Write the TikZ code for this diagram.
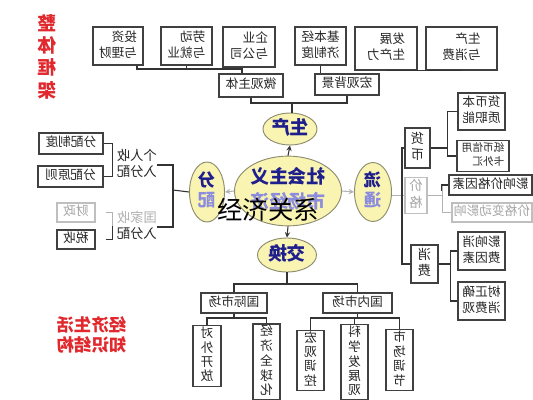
\documentclass[tikz,border=0pt]{standalone}
\usepackage{fontspec}
\setmainfont{Noto Sans CJK SC}
\usepackage{graphicx}
\usepackage{xcolor}
\usetikzlibrary{shapes.geometric}

\definecolor{ink}{HTML}{1E1E8C}
\definecolor{paleblue}{HTML}{8C8CDC}
\definecolor{egg}{HTML}{F9F4B2}
\definecolor{eggline}{HTML}{8C8C6E}
\definecolor{redink}{HTML}{E0282D}

% mirrored text, as printed in the picture
\newcommand{\flp}[1]{\reflectbox{\begin{tabular}{@{}l@{}}#1\end{tabular}}}
\newcommand{\vflp}[1]{\reflectbox{\begin{tabular}{@{}c@{}}#1\end{tabular}}}

\begin{document}
\begin{tikzpicture}[x=0.75pt, y=-0.75pt,
  box/.style={draw=black!75, line width=0.9pt, fill=white, inner sep=1pt, text=black!85, font=\fontsize{9.5}{12}\selectfont},
  vbox/.style={box, font=\fontsize{9.5}{10}\selectfont},
  gbox/.style={box, draw=black!25, text=black!35},
  sz/.style 2 args={minimum width=#1*0.75pt, minimum height=#2*0.75pt},
  egg/.style={ellipse, draw=eggline, line width=0.7pt, fill=egg, inner sep=0pt, text=ink, font=\fontsize{14}{15}\selectfont\bfseries},
  link/.style={draw=black!80, line width=0.8pt},
  glink/.style={draw=black!30, line width=0.8pt},
  redtxt/.style={text=redink, font=\fontsize{13}{14.5}\selectfont\bfseries},
  >=stealth]
\fill[white] (0,0) rectangle (533,400);
\useasboundingbox (0,0) rectangle (533,400);

%%%%% titles %%%%%
\node[redtxt, font=\fontsize{14}{15.4}\selectfont\bfseries] (ztkj) at (47,59) {\vflp{整\\体\\框\\架}};
\node[redtxt] (jjsh) at (92,337) {\flp{经济生活\\知识结构}};

%%%%% top row %%%%%
\node[box, sz={50}{38}] (tzlc) at (118,46) {\flp{投资\\与理财}};
\node[box, sz={51}{38}] (ldjy) at (186.5,46) {\flp{劳动\\与就业}};
\node[box, sz={52}{40}] (qygs) at (249,47) {\flp{企业\\与公司}};
\node[box, sz={51}{38}] (jbzd) at (320.5,46) {\flp{基本经\\济制度}};
\node[box, sz={62}{43}] (fzscl) at (386,48.5) {\flp{发展\\生产力}};
\node[box, sz={71}{43}] (scxf) at (461.5,48.5) {\flp{生产\\与消费}};
\node[box, sz={64}{23}] (wgzt) at (251,85.5) {\flp{微观主体}};
\node[box, sz={64}{21}] (hgbj) at (347,84.5) {\flp{宏观背景}};

\coordinate (tj) at (137,69);
\coordinate (tk) at (242,69);
\coordinate (mj) at (292,103);
\draw[link] (tj |- tzlc.south) -- (tj) -- (tk);
\draw[link] (ldjy.south) -- (ldjy.south |- tj);
\draw[link] (qygs.south -| tk) -- (wgzt.north -| tk);
\draw[link] (jbzd.south) -- (jbzd.south |- hgbj.north);
\draw[link] (fzscl.south) -- (scxf.south);
\draw[link] (wgzt.south) -- (wgzt.south |- mj) -- (mj -| hgbj.south) -- (hgbj.south);

%%%%% ellipses %%%%%
\node[egg, sz={54}{32}] (sc) at (290,129) {\flp{生产}};
\node[egg, sz={107}{67}, font=\fontsize{14}{18.5}\selectfont\bfseries] (core) at (288,191) {\vflp{社会主义\\\color{paleblue}市场经济}};
\node[egg, sz={35}{60}, font=\fontsize{13}{15}\selectfont\bfseries] (fp) at (207,192) {\vflp{分\\\color{paleblue}配}};
\node[egg, sz={37}{59}, font=\fontsize{13}{15}\selectfont\bfseries] (lt) at (373,192) {\vflp{流\\\color{paleblue}通}};
\node[egg, sz={59}{34}] (jh) at (287,255) {\flp{交换}};

\draw[link] (mj) -- (mj |- sc.north);
\draw[link,->] (core.north) -- (sc.south);
\draw[link,->] (core.south) -- (jh.north);
\draw[glink,->] (core.west) -- (fp.east);
\draw[glink,->] (core.east) -- (lt.west);

%%%%% left tree %%%%%
\node[box, sz={64}{21}] (fpzd) at (71,143.5) {\flp{分配制度}};
\node[box, sz={65}{21}] (fpyz) at (70.5,176.5) {\flp{分配原则}};
\node[gbox, sz={38}{19}] (cz) at (76,212.5) {\flp{财政}};
\node[box, sz={38}{19}] (ss) at (76,239.5) {\flp{税收}};
\node[inner sep=0pt, text=black!85, font=\fontsize{10}{12}\selectfont] (grsr) at (137,165) {\flp{个人收\\入分配}};
\node[inner sep=0pt, text=black!85, font=\fontsize{10}{12}\selectfont] (gjsr) at (137,227) {\flp{\color{black!30}国家收\\入分配}};

\coordinate (lb) at (173,190);
\draw[link] (fp.west) -- (lb);
\draw[link] (grsr.east) -| (lb) |- (gjsr.east);
\draw[link] (fpzd.east) -- ++(9,0) |- (fpyz.east);
\draw[glink] (cz.east) ++(10,0) -- ++(7,0) -- ++(0,14);
\draw[link] (ss.east) ++(10,0) -- ++(7,0) -- ++(0,-14);

%%%%% right tree %%%%%
\node[box, sz={25}{40}, font=\fontsize{10}{12.5}\selectfont] (hb) at (417.5,148) {\vflp{货\\币}};
\node[gbox, sz={22}{35}, font=\fontsize{10}{12.5}\selectfont] (jg) at (416,195.5) {\vflp{价\\格}};
\node[box, sz={27}{38}, font=\fontsize{10}{12.5}\selectfont] (xf) at (424.5,264) {\vflp{消\\费}};
\node[box, sz={47}{37}] (hbbz) at (481.5,111.5) {\flp{货币本\\质职能}};
\node[box, sz={52}{28}, font=\fontsize{8}{10.5}\selectfont] (zbxy) at (483,156) {\flp{纸币信用\\卡外汇}};
\node[box, sz={83}{20}] (yxjg) at (490.5,185) {\flp{影响价格因素}};
\node[gbox, sz={80}{19}] (jgbd) at (492,212.5) {\flp{价格变动影响}};
\node[box, sz={47}{38}] (yxxf) at (481.5,251) {\flp{影响消\\费因素}};
\node[box, sz={47}{38}] (szqxf) at (481.5,301) {\flp{树正确\\消费观}};

\coordinate (rs) at (402,0);
\draw[glink] (lt.east |- jg.west) -- (jg.west);
\draw[link] (hb.west) -- (hb.west -| rs) -- (xf.west -| rs) -- (xf.west);
\draw[link] (hb.east) -- ++(17,0) coordinate (hbj);
\draw[link] (hbbz.west) -| (hbj) |- (zbxy.west);
\draw[glink] (jg.east) -- ++(15,0) coordinate (jgj);
\draw[glink] (jgbd.west) -| (jgj) |- (yxjg.west);
\draw[link] (yxjg.west) -| ++(-7,6);
\draw[link] (xf.east) -- ++(12,0) coordinate (xfj);
\draw[link] (yxxf.west) -| (xfj) |- (szqxf.west);

%%%%% bottom tree %%%%%
\node[box, sz={66}{20}] (gjsc) at (234,303) {\flp{国际市场}};
\node[box, sz={69}{20}] (gnsc) at (357.5,303) {\flp{国内市场}};
\node[vbox, sz={28}{58}] (dwkf) at (207,356) {\vflp{对\\外\\开\\放}};
\node[vbox, sz={27}{70}] (jjqqh) at (266.5,362) {\vflp{经\\济\\全\\球\\化}};
\node[vbox, sz={27}{57}] (hgtk) at (310.5,360.5) {\vflp{宏\\观\\调\\控}};
\node[vbox, sz={27}{70}] (kxfzg) at (354.5,362) {\vflp{科\\学\\发\\展\\观}};
\node[vbox, sz={27}{56}] (sctj) at (399.5,360) {\vflp{市\\场\\调\\节}};

\coordinate (bj) at (287,284);
\coordinate (gj) at (234,318);
\draw[link] (jh.south) -- (bj);
\draw[link] (gjsc.north) |- (bj) -| (gnsc.north);
\draw[link] (gjsc.south) -- (gj);
\draw[link] (dwkf.north) |- (gj) -| (jjqqh.north);
\draw[link] (gnsc.south) -- (gnsc.south |- gj);
\draw[link] (hgtk.north) |- (sctj.north |- gj) -- (sctj.north);
\draw[link] (kxfzg.north) -- (kxfzg.north |- gj);

%%%%% overlay %%%%%
\node[inner sep=0pt, font=\fontsize{19}{19}\selectfont] (gxtxt) at (268,210) {经济关系};
\end{tikzpicture}
\end{document}
